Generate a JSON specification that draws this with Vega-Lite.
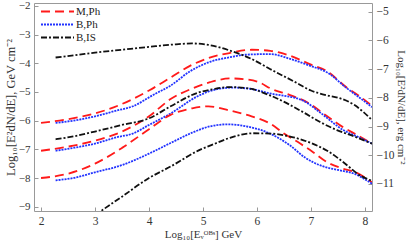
{
  "$schema": "https://vega.github.io/schema/vega-lite/v6.json",
  "width": 338,
  "height": 208,
  "autosize": {"type": "none"},
  "padding": {"left": 34, "top": 3, "right": 39, "bottom": 32},
  "background": "white",
  "config": {
    "view": {"stroke": "#999999", "strokeWidth": 1},
    "font": "Liberation Serif",
    "axis": {"labelFont": "Liberation Serif", "titleFont": "Liberation Serif", "labelFontSize": 11, "titleFontSize": 11, "titleFontWeight": "normal", "labelColor": "#333333", "titleColor": "#333333", "domain": false, "grid": false, "tickColor": "#999999", "tickSize": -4}
  },
  "resolve": {"scale": {"y": "independent"}},
  "layer": [
    {
      "data": {"values": [
        {"s":"M,Ph","L":53,"x":2.0,"y":-6.08},{"s":"M,Ph","L":53,"x":2.5,"y":-5.95},{"s":"M,Ph","L":53,"x":3.0,"y":-5.75},{"s":"M,Ph","L":53,"x":3.5,"y":-5.42},{"s":"M,Ph","L":53,"x":4.0,"y":-4.95},{"s":"M,Ph","L":53,"x":4.4,"y":-4.5},{"s":"M,Ph","L":53,"x":4.8,"y":-4.05},{"s":"M,Ph","L":53,"x":5.1,"y":-3.82},{"s":"M,Ph","L":53,"x":5.5,"y":-3.64},{"s":"M,Ph","L":53,"x":5.9,"y":-3.53},{"s":"M,Ph","L":53,"x":6.25,"y":-3.57},{"s":"M,Ph","L":53,"x":6.6,"y":-3.73},{"s":"M,Ph","L":53,"x":7.0,"y":-4.05},{"s":"M,Ph","L":53,"x":7.3,"y":-4.28},{"s":"M,Ph","L":53,"x":7.65,"y":-4.83},{"s":"M,Ph","L":53,"x":7.9,"y":-5.15},{"s":"M,Ph","L":53,"x":8.13,"y":-5.48},
        {"s":"B,Ph","L":53,"x":2.27,"y":-6.08},{"s":"B,Ph","L":53,"x":2.6,"y":-6.0},{"s":"B,Ph","L":53,"x":3.0,"y":-5.85},{"s":"B,Ph","L":53,"x":3.4,"y":-5.65},{"s":"B,Ph","L":53,"x":3.7,"y":-5.5},{"s":"B,Ph","L":53,"x":4.1,"y":-5.08},{"s":"B,Ph","L":53,"x":4.4,"y":-4.78},{"s":"B,Ph","L":53,"x":4.76,"y":-4.28},{"s":"B,Ph","L":53,"x":5.13,"y":-3.95},{"s":"B,Ph","L":53,"x":5.5,"y":-3.79},{"s":"B,Ph","L":53,"x":5.8,"y":-3.7},{"s":"B,Ph","L":53,"x":6.25,"y":-3.68},{"s":"B,Ph","L":53,"x":6.6,"y":-3.84},{"s":"B,Ph","L":53,"x":7.0,"y":-4.1},{"s":"B,Ph","L":53,"x":7.3,"y":-4.32},{"s":"B,Ph","L":53,"x":7.65,"y":-4.85},{"s":"B,Ph","L":53,"x":7.9,"y":-5.2},{"s":"B,Ph","L":53,"x":8.13,"y":-5.53},
        {"s":"B,IS","L":53,"x":2.27,"y":-3.8},{"s":"B,IS","L":53,"x":2.7,"y":-3.7},{"s":"B,IS","L":53,"x":3.0,"y":-3.63},{"s":"B,IS","L":53,"x":3.5,"y":-3.53},{"s":"B,IS","L":53,"x":4.0,"y":-3.43},{"s":"B,IS","L":53,"x":4.5,"y":-3.34},{"s":"B,IS","L":53,"x":4.8,"y":-3.31},{"s":"B,IS","L":53,"x":5.1,"y":-3.36},{"s":"B,IS","L":53,"x":5.5,"y":-3.56},{"s":"B,IS","L":53,"x":5.9,"y":-3.85},{"s":"B,IS","L":53,"x":6.24,"y":-4.2},{"s":"B,IS","L":53,"x":6.67,"y":-4.62},{"s":"B,IS","L":53,"x":7.0,"y":-4.95},{"s":"B,IS","L":53,"x":7.3,"y":-5.12},{"s":"B,IS","L":53,"x":7.5,"y":-5.2},{"s":"B,IS","L":53,"x":7.8,"y":-5.45},{"s":"B,IS","L":53,"x":8.13,"y":-5.98},
        {"s":"M,Ph","L":52,"x":2.0,"y":-7.05},{"s":"M,Ph","L":52,"x":2.6,"y":-6.87},{"s":"M,Ph","L":52,"x":3.0,"y":-6.7},{"s":"M,Ph","L":52,"x":3.5,"y":-6.38},{"s":"M,Ph","L":52,"x":4.0,"y":-5.85},{"s":"M,Ph","L":52,"x":4.4,"y":-5.25},{"s":"M,Ph","L":52,"x":4.8,"y":-4.88},{"s":"M,Ph","L":52,"x":5.13,"y":-4.66},{"s":"M,Ph","L":52,"x":5.5,"y":-4.53},{"s":"M,Ph","L":52,"x":5.8,"y":-4.56},{"s":"M,Ph","L":52,"x":6.06,"y":-4.68},{"s":"M,Ph","L":52,"x":6.24,"y":-4.87},{"s":"M,Ph","L":52,"x":6.6,"y":-5.1},{"s":"M,Ph","L":52,"x":6.93,"y":-5.36},{"s":"M,Ph","L":52,"x":7.3,"y":-5.85},{"s":"M,Ph","L":52,"x":7.57,"y":-6.2},{"s":"M,Ph","L":52,"x":7.85,"y":-6.5},{"s":"M,Ph","L":52,"x":8.13,"y":-6.8},
        {"s":"B,Ph","L":52,"x":2.27,"y":-7.05},{"s":"B,Ph","L":52,"x":2.6,"y":-6.95},{"s":"B,Ph","L":52,"x":3.0,"y":-6.8},{"s":"B,Ph","L":52,"x":3.4,"y":-6.58},{"s":"B,Ph","L":52,"x":3.7,"y":-6.45},{"s":"B,Ph","L":52,"x":4.0,"y":-6.15},{"s":"B,Ph","L":52,"x":4.4,"y":-5.75},{"s":"B,Ph","L":52,"x":4.9,"y":-5.15},{"s":"B,Ph","L":52,"x":5.2,"y":-4.93},{"s":"B,Ph","L":52,"x":5.55,"y":-4.85},{"s":"B,Ph","L":52,"x":5.9,"y":-4.9},{"s":"B,Ph","L":52,"x":6.24,"y":-5.05},{"s":"B,Ph","L":52,"x":6.85,"y":-5.3},{"s":"B,Ph","L":52,"x":7.17,"y":-5.72},{"s":"B,Ph","L":52,"x":7.6,"y":-6.33},{"s":"B,Ph","L":52,"x":7.85,"y":-6.55},{"s":"B,Ph","L":52,"x":8.13,"y":-6.8},
        {"s":"B,IS","L":52,"x":2.27,"y":-6.65},{"s":"B,IS","L":52,"x":2.6,"y":-6.55},{"s":"B,IS","L":52,"x":3.0,"y":-6.38},{"s":"B,IS","L":52,"x":3.5,"y":-6.15},{"s":"B,IS","L":52,"x":4.0,"y":-5.92},{"s":"B,IS","L":52,"x":4.4,"y":-5.5},{"s":"B,IS","L":52,"x":4.9,"y":-5.03},{"s":"B,IS","L":52,"x":5.2,"y":-4.9},{"s":"B,IS","L":52,"x":5.5,"y":-4.83},{"s":"B,IS","L":52,"x":5.85,"y":-4.88},{"s":"B,IS","L":52,"x":6.24,"y":-5.12},{"s":"B,IS","L":52,"x":6.85,"y":-5.7},{"s":"B,IS","L":52,"x":7.17,"y":-6.05},{"s":"B,IS","L":52,"x":7.48,"y":-6.33},{"s":"B,IS","L":52,"x":7.8,"y":-6.55},{"s":"B,IS","L":52,"x":8.13,"y":-6.8},
        {"s":"M,Ph","L":51,"x":2.0,"y":-8.0},{"s":"M,Ph","L":51,"x":2.5,"y":-7.85},{"s":"M,Ph","L":51,"x":3.0,"y":-7.5},{"s":"M,Ph","L":51,"x":3.5,"y":-6.95},{"s":"M,Ph","L":51,"x":4.0,"y":-6.3},{"s":"M,Ph","L":51,"x":4.4,"y":-5.8},{"s":"M,Ph","L":51,"x":4.8,"y":-5.57},{"s":"M,Ph","L":51,"x":5.1,"y":-5.5},{"s":"M,Ph","L":51,"x":5.5,"y":-5.65},{"s":"M,Ph","L":51,"x":5.9,"y":-5.85},{"s":"M,Ph","L":51,"x":6.24,"y":-6.1},{"s":"M,Ph","L":51,"x":6.5,"y":-6.45},{"s":"M,Ph","L":51,"x":6.8,"y":-6.8},{"s":"M,Ph","L":51,"x":7.04,"y":-7.1},{"s":"M,Ph","L":51,"x":7.3,"y":-7.45},{"s":"M,Ph","L":51,"x":7.55,"y":-7.65},{"s":"M,Ph","L":51,"x":7.85,"y":-7.82},{"s":"M,Ph","L":51,"x":8.13,"y":-8.15},
        {"s":"B,Ph","L":51,"x":2.27,"y":-8.08},{"s":"B,Ph","L":51,"x":2.6,"y":-8.0},{"s":"B,Ph","L":51,"x":3.0,"y":-7.8},{"s":"B,Ph","L":51,"x":3.5,"y":-7.55},{"s":"B,Ph","L":51,"x":4.0,"y":-7.15},{"s":"B,Ph","L":51,"x":4.4,"y":-6.78},{"s":"B,Ph","L":51,"x":4.8,"y":-6.42},{"s":"B,Ph","L":51,"x":5.13,"y":-6.2},{"s":"B,Ph","L":51,"x":5.45,"y":-6.13},{"s":"B,Ph","L":51,"x":5.8,"y":-6.2},{"s":"B,Ph","L":51,"x":6.24,"y":-6.45},{"s":"B,Ph","L":51,"x":6.6,"y":-6.85},{"s":"B,Ph","L":51,"x":6.9,"y":-7.3},{"s":"B,Ph","L":51,"x":7.2,"y":-7.58},{"s":"B,Ph","L":51,"x":7.5,"y":-7.72},{"s":"B,Ph","L":51,"x":7.8,"y":-7.85},{"s":"B,Ph","L":51,"x":8.13,"y":-8.2},
        {"s":"B,IS","L":51,"x":3.0,"y":-9.3},{"s":"B,IS","L":51,"x":3.15,"y":-9.1},{"s":"B,IS","L":51,"x":3.5,"y":-8.65},{"s":"B,IS","L":51,"x":4.0,"y":-8.0},{"s":"B,IS","L":51,"x":4.4,"y":-7.6},{"s":"B,IS","L":51,"x":4.94,"y":-7.02},{"s":"B,IS","L":51,"x":5.2,"y":-6.82},{"s":"B,IS","L":51,"x":5.5,"y":-6.6},{"s":"B,IS","L":51,"x":5.93,"y":-6.44},{"s":"B,IS","L":51,"x":6.24,"y":-6.45},{"s":"B,IS","L":51,"x":6.6,"y":-6.55},{"s":"B,IS","L":51,"x":7.0,"y":-6.78},{"s":"B,IS","L":51,"x":7.3,"y":-7.05},{"s":"B,IS","L":51,"x":7.6,"y":-7.45},{"s":"B,IS","L":51,"x":7.9,"y":-7.9},{"s":"B,IS","L":51,"x":8.13,"y":-8.1}
      ]},
      "mark": {"type": "line", "clip": true, "interpolate": "monotone", "strokeWidth": 1.8},
      "encoding": {
        "x": {"field": "x", "type": "quantitative", "scale": {"domain": [1.87, 8.13], "nice": false, "zero": false},
              "axis": {"title": "Log₁₀[Eᵥᴼᴮˢ] GeV", "values": [2,3,4,5,6,7,8], "format": "d", "titlePadding": 2, "labelPadding": 8, "labelFont": "Liberation Serif", "labelFontSize": 11.5}},
        "y": {"field": "y", "type": "quantitative", "scale": {"domain": [-9.15, -1.9], "nice": false, "zero": false},
              "axis": {"orient": "left", "title": "Log₁₀[E²dN/dE], GeV cm⁻²", "titleFontSize": 12.5, "values": [-9,-8,-7,-6,-5,-4,-3,-2], "format": "d", "titlePadding": 1, "labelPadding": 8, "labelFont": "Liberation Serif"}},
        "color": {"field": "s", "type": "nominal", "scale": {"domain": ["M,Ph","B,Ph","B,IS"], "range": ["#ff1a1a", "#2233ff", "#111111"]},
                  "legend": {"orient": "none", "legendX": 6, "legendY": 2, "title": null, "symbolType": "M-1,0H5", "symbolSize": 121, "symbolStrokeWidth": 2, "labelFont": "Liberation Serif", "labelFontSize": 11, "labelColor": "#222222", "labelOffset": 23, "rowPadding": 1, "padding": 0}},
        "strokeDash": {"field": "s", "type": "nominal", "scale": {"domain": ["M,Ph","B,Ph","B,IS"], "range": [[9,5],[2,1],[6,2,2,2]]}, "legend": null},
        "detail": {"field": "L", "type": "nominal"}
      }
    },
    {
      "data": {"values": [{"r": -5}, {"r": -11}]},
      "mark": {"type": "point", "opacity": 0},
      "encoding": {
        "y": {"field": "r", "type": "quantitative", "scale": {"domain": [-11.945, -4.695], "nice": false, "zero": false},
              "axis": {"orient": "right", "title": "Log₁₀[E²dN/dE], erg cm⁻²", "values": [-11,-10,-9,-8,-7,-6,-5], "format": "d", "titlePadding": 2, "labelPadding": 8, "labelFont": "Liberation Serif", "labelFontSize": 11.5}}
      }
    },
    {
      "mark": {"type": "text", "text": "Lᵧ=10^53(top),52(mid),51(bottom) erg/s", "align": "right", "baseline": "middle", "font": "Liberation Serif", "fontSize": 9, "color": "#333333"},
      "encoding": {
        "x": {"datum": 7.92, "type": "quantitative"},
        "y": {"datum": -2.28, "type": "quantitative", "scale": {"domain": [-9.15, -1.9], "nice": false, "zero": false}, "axis": null}
      }
    },
    {
      "mark": {"type": "text", "text": "η=300,z=1.0", "align": "right", "baseline": "middle", "font": "Liberation Serif", "fontSize": 9, "color": "#333333"},
      "encoding": {
        "x": {"datum": 7.8, "type": "quantitative"},
        "y": {"datum": -2.66, "type": "quantitative", "scale": {"domain": [-9.15, -1.9], "nice": false, "zero": false}, "axis": null}
      }
    }
  ]
}
